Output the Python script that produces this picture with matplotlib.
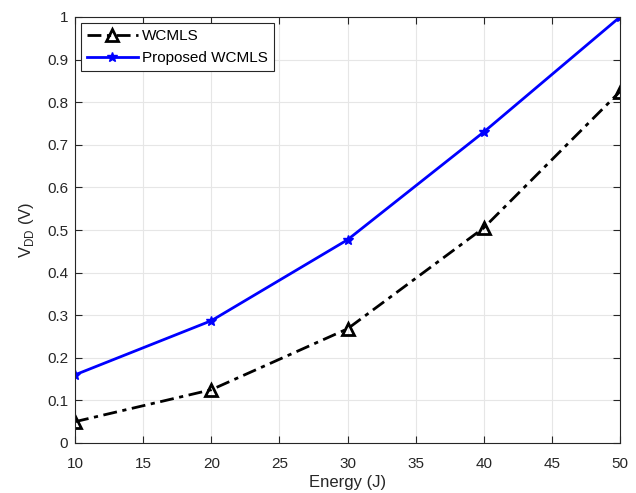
import matplotlib
matplotlib.use("Agg")
import matplotlib.pyplot as plt

energy = [10, 20, 30, 40, 50]
wcmls = [0.05, 0.125, 0.268, 0.505, 0.825]
proposed = [0.16, 0.287, 0.477, 0.73, 1.0]

plt.rcParams['font.family'] = ['Liberation Sans', 'DejaVu Sans']

fig = plt.figure(figsize=(6.36, 4.93), dpi=100)
ax = fig.add_axes([75/636, 1-443/493, (620-75)/636, (443-17)/493])

ax.plot(energy, wcmls, color='black', linestyle=(0, (5, 2, 1.5, 2)), linewidth=2, marker='^',
        markersize=9, markerfacecolor='none', markeredgewidth=2, label='WCMLS')
ax.plot(energy, proposed, color='blue', linestyle='-', linewidth=2, marker='*',
        markersize=7, label='Proposed WCMLS')

ax.set_xlim(10, 50)
ax.set_ylim(0, 1)
ax.set_xticks(range(10, 51, 5))
ax.set_yticks([i/10 for i in range(11)])
ax.set_yticklabels(['0'] + [f'0.{i}' for i in range(1, 10)] + ['1'])
ax.grid(True, color='#e6e6e6', linewidth=0.8)
ax.set_axisbelow(True)
ax.tick_params(direction='in', top=True, right=True, labelsize=11, length=5, colors='#262626')
ax.tick_params(axis='x', pad=10)
ax.tick_params(axis='y', pad=5)
for s in ax.spines.values():
    s.set_color('#262626')
ax.set_xlabel('Energy (J)', fontsize=12, color='#262626', labelpad=3)
ax.set_ylabel('V$_{\\mathregular{DD}}$ (V)', fontsize=12, color='#262626', labelpad=8)
leg = ax.legend(loc='upper left', fontsize=11, fancybox=False, edgecolor='#262626',
                handlelength=3.3, handletextpad=0.3, borderaxespad=0.4, framealpha=1)
leg.get_frame().set_linewidth(0.8)

fig.savefig('out.png', dpi=100)
